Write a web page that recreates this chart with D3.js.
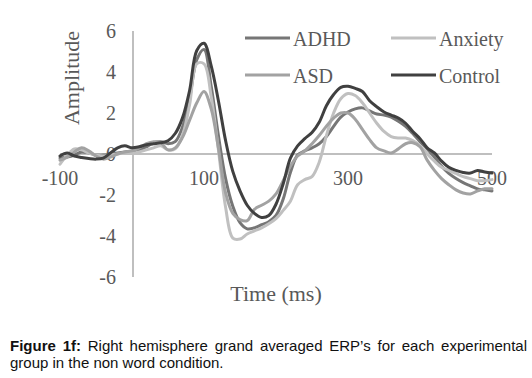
<!DOCTYPE html>
<html><head><meta charset="utf-8">
<script src="https://cdn.jsdelivr.net/npm/d3@7/dist/d3.min.js"></script>
<style>body{margin:0;background:#fff}svg{display:block}</style>
</head><body><svg id="c" width="532" height="378"></svg>
<script>
const times = [-100,-90,-80,-70,-60,-50,-40,-30,-20,-10,0,10,20,30,40,50,60,70,80,90,100,110,120,130,140,150,160,170,180,190,200,210,220,230,240,250,260,270,280,290,300,310,320,330,340,350,360,370,380,390,400,410,420,430,440,450,460,470,480,490,500];
const adhd = [-0.2,-0.15,-0.05,0.1,0.05,-0.05,-0.05,0.0,0.05,0.1,0.15,0.2,0.35,0.55,0.6,0.5,0.6,1.3,2.7,4.6,5.1,3.3,0.9,-1.2,-2.55,-3.35,-3.65,-3.6,-3.45,-3.3,-3.0,-2.2,-0.9,-0.05,0.15,0.3,0.5,0.85,1.35,1.8,2.05,2.2,2.25,2.1,1.95,1.9,1.8,1.6,1.35,1.0,0.6,0.25,-0.15,-0.6,-0.95,-1.2,-1.4,-1.55,-1.7,-1.75,-1.8];
const anxiety = [-0.5,-0.05,0.25,0.2,0.05,-0.05,-0.1,-0.05,0.0,0.05,0.05,0.1,0.2,0.3,0.4,0.2,0.25,0.9,2.4,4.4,4.4,2.8,0.2,-2.6,-4.1,-4.15,-3.9,-3.75,-3.6,-3.4,-3.15,-2.75,-2.3,-1.5,-1.25,-1.1,-0.4,0.9,2.0,2.7,2.95,2.85,2.5,2.0,1.5,1.1,0.85,0.78,0.78,0.65,0.4,0.0,-0.35,-0.65,-0.8,-0.95,-1.1,-1.2,-1.3,-1.3,-1.25];
const asd = [-0.3,-0.15,0.1,0.3,0.15,-0.1,-0.25,-0.15,0.0,0.1,0.15,0.3,0.5,0.6,0.55,0.2,0.3,0.8,1.65,2.5,3.05,2.2,0.3,-1.9,-2.9,-3.2,-3.25,-2.7,-2.5,-2.3,-1.95,-1.3,-0.6,-0.1,0.15,0.5,0.9,1.35,1.75,2.0,2.0,1.7,1.2,0.7,0.3,0.15,0.05,0.25,0.5,0.55,0.35,-0.3,-0.8,-1.2,-1.5,-1.75,-1.9,-1.95,-1.8,-1.7,-1.7];
const control = [-0.1,0.05,-0.1,-0.17,-0.22,-0.25,-0.2,0.05,0.3,0.4,0.3,0.35,0.45,0.5,0.55,0.65,1.0,1.75,3.1,5.05,5.4,4.3,2.6,0.65,-0.85,-1.8,-2.5,-2.9,-3.1,-3.0,-2.45,-1.45,-0.2,0.4,0.75,1.05,1.55,2.35,2.9,3.25,3.3,3.2,3.05,2.6,2.3,2.05,1.9,1.75,1.5,1.1,0.75,0.3,0.05,-0.35,-0.65,-0.8,-0.9,-0.93,-0.8,-0.88,-0.93];
const seriesNames = ["ADHD","Anxiety","ASD","Control"];
const seriesColors = ["#767676","#c0c0c0","#a2a2a2","#404040"];
const xTicks = [-100,100,300,500];
const yTicks = [6,4,2,0,-2,-4,-6];

const svg = d3.select("#c");
const x = d3.scaleLinear().domain([-100,500]).range([60,492]);
const y = d3.scaleLinear().domain([-6,6]).range([277,31]);
const txt = "#595959", serif = "'Liberation Serif','Times New Roman',serif";

// axes lines
svg.append("line").attr("x1",x(0)+1).attr("x2",x(0)+1).attr("y1",y(6)).attr("y2",y(-6)).attr("stroke","#bfbfbf").attr("stroke-width",2);
svg.append("line").attr("x1",x(-100)).attr("x2",x(500)).attr("y1",y(0)).attr("y2",y(0)).attr("stroke","#bfbfbf").attr("stroke-width",2);

// tick labels
svg.selectAll(".yt").data(yTicks).enter().append("text").attr("x",116).attr("y",d=>y(d)+6.5)
  .attr("text-anchor","end").attr("font-family",serif).attr("font-size",20).attr("fill",txt).text(d=>d);
svg.selectAll(".xt").data(xTicks).enter().append("text").attr("x",d=>x(d)).attr("y",y(0)+31)
  .attr("text-anchor","middle").attr("font-family",serif).attr("font-size",20).attr("fill",txt).text(d=>d);

// titles
svg.append("text").attr("transform","translate(79,78) rotate(-90)").attr("text-anchor","middle")
  .attr("font-family",serif).attr("font-size",22).attr("fill",txt).text("Amplitude");
svg.append("text").attr("x",276).attr("y",301).attr("text-anchor","middle")
  .attr("font-family",serif).attr("font-size",22).attr("fill",txt).text("Time (ms)");

// lines
const all = [adhd, anxiety, asd, control];
const line = d3.line().x((d,i)=>x(times[i])).y(d=>y(d)).curve(d3.curveCatmullRom.alpha(0.5));
all.forEach((s,k)=>{
  svg.append("path").attr("d",line(s)).attr("fill","none").attr("stroke",seriesColors[k])
    .attr("stroke-width",3).attr("stroke-linejoin","round").attr("stroke-linecap","round");
});

// legend
const legPos = [[245,38],[391,38],[245,75],[391,75]];
seriesNames.forEach((n,k)=>{
  const [lx,ly] = legPos[k];
  svg.append("line").attr("x1",lx).attr("x2",lx+45).attr("y1",ly).attr("y2",ly)
    .attr("stroke",seriesColors[k]).attr("stroke-width",3);
  svg.append("text").attr("x",lx+48).attr("y",ly+7.5).attr("font-family",serif).attr("font-size",20)
    .attr("fill",txt).text(n);
});

// caption
const sans = "'Liberation Sans',Arial,sans-serif";
const c1 = svg.append("text").attr("x",10).attr("y",351).attr("font-family",sans).attr("font-size",15).attr("fill","#111");
c1.append("tspan").attr("font-weight","bold").text("Figure 1f:");
c1.append("tspan").text(" Right hemisphere grand averaged ERP\u2019s for each experimental");
const w = c1.node().getComputedTextLength();
c1.attr("word-spacing", ((527-10)-w)/9);
svg.append("text").attr("x",10).attr("y",368).attr("font-family",sans).attr("font-size",15).attr("fill","#111")
  .text("group in the non word condition.");
</script></body></html>
